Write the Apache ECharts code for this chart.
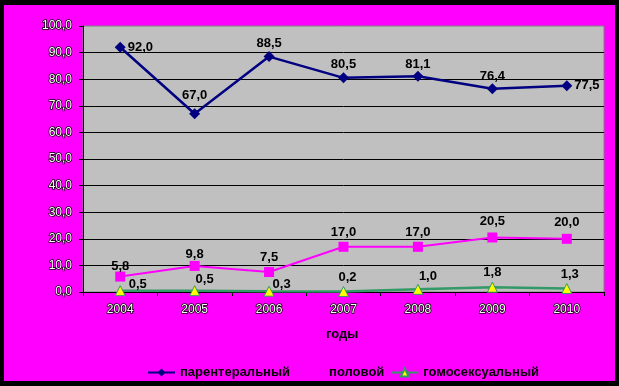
<!DOCTYPE html>
<html><head><meta charset="utf-8">
<style>html,body{margin:0;padding:0;background:#000;}#c{width:619px;height:386px;}</style>
<script src="https://cdn.jsdelivr.net/npm/echarts@6/dist/echarts.min.js"></script>
</head><body><div id="c"></div>
<script>
var categories = ['2004','2005','2006','2007','2008','2009','2010'];
var parenteral = [92.0, 67.0, 88.5, 80.5, 81.1, 76.4, 77.5];
var sexual = [5.8, 9.8, 7.5, 17.0, 17.0, 20.5, 20.0];
var homo = [0.5, 0.5, 0.3, 0.2, 1.0, 1.8, 1.3];
var yTicks = {min: 0, max: 100, interval: 10};

// label placement (styling only)
var parPos = [['right',[0,0]],['top',[0,-4]],['top',[0,1]],['top',[0,1]],['top',[0,2]],['top',[0,2]],['right',[0,0]]];
var sexPos = [['top',[0,3]],['top',[0,2]],['top',[0,-1]],['top',[0,-1]],['top',[0,-1]],['top',[0,-3]],['top',[0,-3]]];
var homPos = [['right',[1,-6]],['top',[10,3]],['right',[-4,-7]],['top',[4,0]],['top',[10,1]],['top',[0,-1]],['top',[3,0]]];

function fmt(v){ return v.toFixed(1).replace('.', ','); }
function build(vals, pos){
  return vals.map(function(v,i){
    return {value: v, label: {position: pos[i][0], offset: pos[i][1]}};
  });
}
var lblBase = {show: true, color: '#000', fontFamily: 'Liberation Sans, Arial', fontWeight: 'bold', fontSize: 13, distance: 2,
  formatter: function(p){ return fmt(p.value); }};
var axisText = {color: '#fff', textBorderColor: '#000', textBorderWidth: 1.5, fontFamily: 'Liberation Sans, Arial', fontSize: 12};

var chart = echarts.init(document.getElementById('c'), null, {renderer: 'canvas'});
chart.setOption({
  animation: false,
  backgroundColor: 'transparent',
  graphic: [
    {type: 'rect', z: -10, shape: {x: 4, y: 5, width: 611, height: 376}, style: {fill: '#FF00FF'}, silent: true},
    {type: 'text', left: 326, top: 328, style: {text: 'годы', fill: '#000', font: 'bold 13px "Liberation Sans", Arial'}}
  ],
  grid: {left: 83, top: 26, width: 521, height: 266, show: true, backgroundColor: '#C0C0C0', borderColor: '#808080', borderWidth: 1, containLabel: false},
  legend: {
    left: 142, top: 361, itemWidth: 27, itemHeight: 10, itemGap: 6,
    textStyle: {color: '#000', fontFamily: 'Liberation Sans, Arial', fontWeight: 'bold', fontSize: 13},
    data: ['парентеральный', 'половой', 'гомосексуальный']
  },
  xAxis: {
    type: 'category', data: categories, boundaryGap: true,
    axisLine: {lineStyle: {color: '#000', width: 1}},
    axisTick: {show: true, length: 4, lineStyle: {color: '#000'}},
    axisLabel: Object.assign({margin: 12}, axisText),
    splitLine: {show: false}
  },
  yAxis: {
    type: 'value', min: yTicks.min, max: yTicks.max, interval: yTicks.interval,
    axisLine: {show: true, lineStyle: {color: '#000', width: 1}},
    axisTick: {show: true, length: 4, lineStyle: {color: '#000'}},
    axisLabel: Object.assign({margin: 11, formatter: function(v){ return fmt(v); }}, axisText),
    splitLine: {show: true, showMaxLine: false, lineStyle: {color: '#000', width: 1}}
  },
  series: [
    {name: 'парентеральный', type: 'line', data: build(parenteral, parPos),
      symbol: 'diamond', symbolSize: 11, lineStyle: {color: '#000080', width: 2.5},
      itemStyle: {color: '#000080'}, label: lblBase, z: 3},
    {name: 'половой', type: 'line', data: build(sexual, sexPos),
      symbol: 'rect', symbolSize: 10, lineStyle: {color: '#FF00FF', width: 2},
      itemStyle: {color: '#FF00FF'}, label: lblBase, z: 3},
    {name: 'гомосексуальный', type: 'line', data: build(homo, homPos),
      symbol: 'triangle', symbolSize: 10, lineStyle: {color: '#339966', width: 2.5},
      itemStyle: {color: '#FFFF00', borderColor: '#339966', borderWidth: 1}, label: lblBase, z: 4}
  ]
});
</script></body></html>
